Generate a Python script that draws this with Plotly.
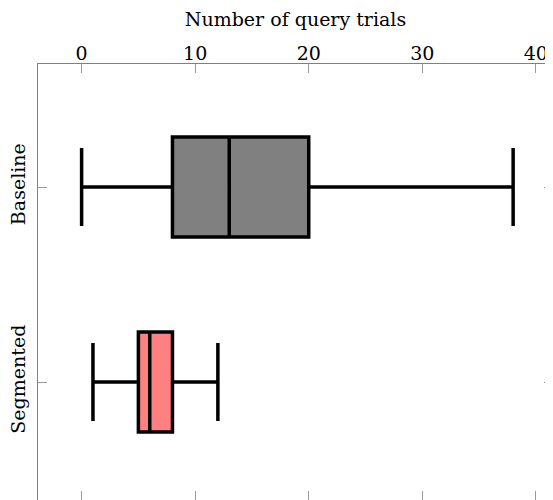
import plotly.graph_objects as go

categories = ["Baseline", "Segmented"]
positions = [1, 2]
lower_whisker = [0, 1]
q1_values = [8, 5]
medians = [13, 6]
q3_values = [20, 8]
upper_whisker = [38, 12]
fill_colors = ["#808080", "#FF8080"]
x_tick_values = [0, 10, 20, 30, 40]

FONT = "DejaVu Serif"

fig = go.Figure()
for i, cat in enumerate(categories):
    fig.add_trace(go.Box(
        y=[positions[i]],
        q1=[q1_values[i]],
        median=[medians[i]],
        q3=[q3_values[i]],
        lowerfence=[lower_whisker[i]],
        upperfence=[upper_whisker[i]],
        orientation="h",
        name=cat,
        fillcolor=fill_colors[i],
        line=dict(color="black", width=3.5),
        width=0.513,
        whiskerwidth=0.78,
        boxpoints=False,
        showlegend=False,
        hoverinfo="skip",
    ))

# page body has an 8px margin; margins are compensated so the plot area
# sits at x 38..553, y 64..500 in the browser window
fig.update_layout(
    width=553, height=500,
    margin=dict(l=30, r=8, t=56, b=8, autoexpand=False),
    plot_bgcolor="white", paper_bgcolor="white",
    font=dict(family=FONT, size=19, color="black"),
    xaxis=dict(
        side="top",
        automargin=False,
        range=[-3.84, 41.51],
        tickvals=x_tick_values,
        ticks="inside", ticklen=9, tickcolor="#999999", tickwidth=1,
        showline=True, linecolor="#808080", linewidth=1, mirror="ticks",
        showgrid=False, zeroline=False,
        ticklabelstandoff=-5,
        title=dict(text="Number of query trials", standoff=13, font=dict(size=19)),
        tickfont=dict(size=19),
    ),
    yaxis=dict(
        automargin=False,
        range=[2.605, 0.369],
        tickvals=positions,
        ticktext=categories,
        tickangle=-90,
        ticks="inside", ticklen=9, tickcolor="#999999", tickwidth=1,
        showline=True, linecolor="#808080", linewidth=1, mirror="ticks",
        showgrid=False, zeroline=False,
        ticklabelstandoff=4,
        tickfont=dict(size=19),
    ),
)

fig.write_html("out.html")
